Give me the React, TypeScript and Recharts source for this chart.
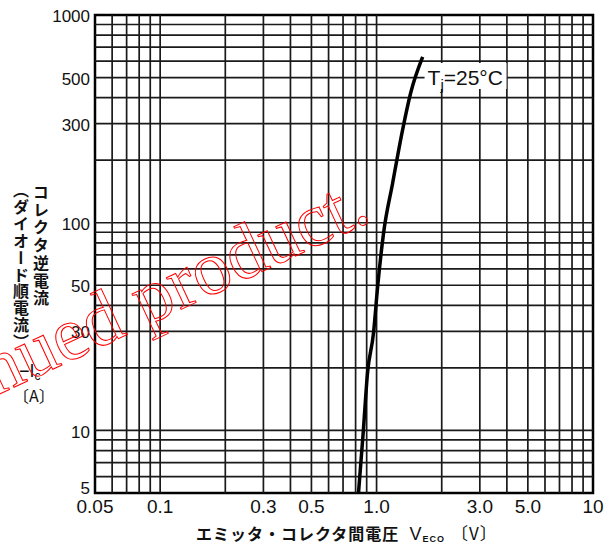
import { ComposedChart, Line, XAxis, YAxis, ReferenceLine, ReferenceArea, ReferenceDot, Label } from 'recharts';

// forward characteristic, Tj = 25°C  (V_ECO in volts, -Ic in amperes)
const voltage = [0.825, 0.867, 0.908, 0.968, 1.011, 1.077, 1.186, 1.319, 1.437, 1.633];
const current = [5, 9.7, 18.9, 29.5, 49, 89, 155, 280, 421, 628];

const xTicks = [0.05, 0.1, 0.3, 0.5, 1, 3, 5, 10];
const xTickLabels = ['0.05', '0.1', '0.3', '0.5', '1.0', '3.0', '5.0', '10'];
const yTicks = [5, 10, 30, 50, 100, 300, 500, 1000];

const xGrid = [0.06, 0.07, 0.08, 0.09, 0.1, 0.2, 0.3, 0.4, 0.5, 0.6, 0.7, 0.8, 0.9, 1, 2, 3, 4, 5, 6, 7, 8, 9];
const yGrid = [6, 7, 8, 9, 10, 20, 30, 40, 50, 60, 70, 80, 90, 100, 200, 300, 400, 500, 600, 700, 800, 900];

const data = voltage.map((v, i) => ({ v, i: current[i] }));

const W = 609;
const H = 550;
const jp = '"Noto Sans CJK JP", sans-serif';
const num = '"Liberation Sans", Arial, sans-serif';

const XTitle = () => (
  <text x={196} y={540} fontFamily={jp} fontWeight={700} fontSize={16} fill="#111" letterSpacing={1}>
    エミッタ・コレクタ間電圧
    <tspan dx={10} fontFamily={num} fontWeight={400} fontSize={18}>V</tspan>
    <tspan fontFamily={num} fontWeight={700} fontSize={9} dy={2}>ECO</tspan>
    <tspan dx={6} dy={-2} fontFamily={jp} fontSize={17} fontWeight={400}>〔V〕</tspan>
  </text>
);

const YTitle = () => (
  <g fill="#111" fontFamily={jp} fontWeight={700}>
    <text x={41} y={184} fontSize={16} letterSpacing={1.7} style={{ writingMode: 'vertical-rl' }}>
      コレクタ逆電流
    </text>
    <text x={21} y={182} fontSize={16} letterSpacing={0.9} style={{ writingMode: 'vertical-rl' }}>
      （ダイオード順電流）
    </text>
    <text x={19} y={377} fontSize={18} fontFamily={num} fontWeight={400}>
      −I<tspan fontSize={12} dy={3}>c</tspan>
    </text>
    <text x={13} y={402} fontSize={16} fontWeight={400}>〔A〕</text>
  </g>
);

const YTick = (props: any) => {
  const { x, y, payload } = props;
  const lift = payload.value === 5 ? -5 : 1;
  return (
    <text x={x} y={y + lift} dy="0.355em" textAnchor="end" fill="#111" fontSize={17} fontFamily={num}>
      {payload.value}
    </text>
  );
};

const TjNote = (props: any) => {
  const { cx, cy } = props;
  return (
    <g>
      <rect x={cx - 3} y={cy - 14} width={82} height={26} fill="#fff" />
      <text x={cx} y={cy + 8} fontFamily={num} fontSize={21} fill="#111">
        T<tspan fontSize={15} dy={5}>j</tspan>
        <tspan dy={-5}>=25°C</tspan>
      </text>
    </g>
  );
};

export default function App() {
  return (
    <div style={{ position: 'absolute', left: 0, top: 0, width: W, height: H, background: '#fff' }}>
      <ComposedChart width={W} height={H} data={data} margin={{ top: 15, right: 16, left: 35, bottom: 27 }}>
        <XAxis
          dataKey="v"
          type="number"
          scale="log"
          domain={[0.05, 10]}
          allowDataOverflow
          ticks={xTicks}
          tickFormatter={(val: number) => xTickLabels[xTicks.indexOf(val)] ?? String(val)}
          axisLine={false}
          tickLine={false}
          tickSize={5}
          tickMargin={2}
          interval={0}
          tick={{ fill: '#111', fontSize: 19, fontFamily: num }}
        >
          <Label content={() => <XTitle />} />
        </XAxis>
        <YAxis
          dataKey="i"
          type="number"
          scale="log"
          domain={[5, 1000]}
          allowDataOverflow
          ticks={yTicks}
          width={60}
          axisLine={false}
          tickLine={false}
          tickSize={5}
          tickMargin={0}
          interval={0}
          tick={<YTick />}
        >
          <Label content={() => <YTitle />} />
        </YAxis>
        {xGrid.map((g) => (
          <ReferenceLine key={'x' + g} x={g} stroke="#1a1a1a" strokeWidth={1.7} ifOverflow="extendDomain" />
        ))}
        {yGrid.map((g) => (
          <ReferenceLine key={'y' + g} y={g} stroke="#1a1a1a" strokeWidth={1.7} ifOverflow="extendDomain" />
        ))}
        <ReferenceArea x1={0.05} x2={10} y1={5} y2={1000} fill="none" stroke="#000" strokeWidth={2.5} />
        <Line
          dataKey="i"
          type="monotone"
          stroke="#000"
          strokeWidth={3.5}
          dot={false}
          activeDot={false}
          isAnimationActive={false}
        />
        <ReferenceDot x={1.72} y={503} r={1} shape={TjNote} />
      </ComposedChart>
      <svg
        width={W}
        height={H}
        style={{ position: 'absolute', left: 0, top: 0, pointerEvents: 'none' }}
      >
        <text
          x={373}
          y={220}
          textAnchor="end"
          transform="rotate(-25 373 220)"
          fontFamily='"Liberation Serif", serif'
          fontSize={76}
          fill="none"
          stroke="#ff0000"
          strokeWidth={1}
        >
          Discontinued product.
        </text>
      </svg>
    </div>
  );
}
